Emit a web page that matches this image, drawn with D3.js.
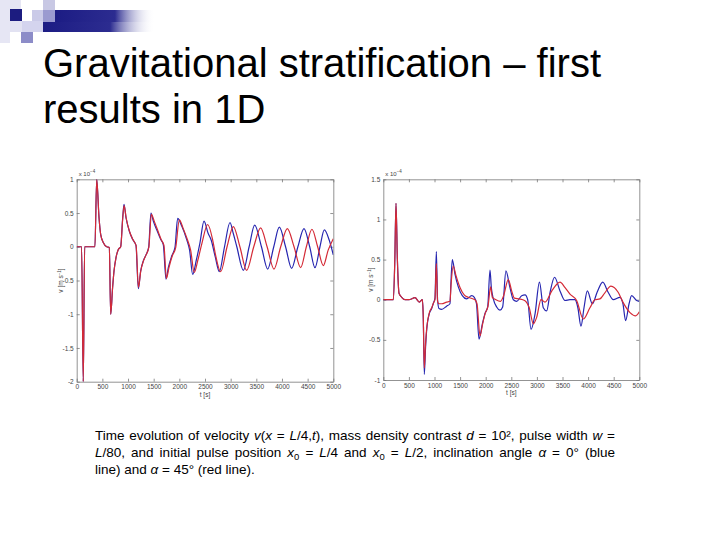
<!DOCTYPE html>
<html><head><meta charset="utf-8">
<script src="https://cdn.jsdelivr.net/npm/d3@7"></script>
<style>body{margin:0;background:#fff}svg{display:block}</style>
</head><body><svg id="c" width="720" height="540"></svg>
<script>
// ---------- data ----------
const xTicks = [0,500,1000,1500,2000,2500,3000,3500,4000,4500,5000];
const leftYTicks = [-2,-1.5,-1,-0.5,0,0.5,1];
const rightYTicks = [-1,-0.5,0,0.5,1,1.5];
const titleLines = ["Gravitational stratification \u2013 first","results in 1D"];

const leftBlue = [[0,0],[95,0],[128,-2],[155,0],[355,0],[390,1],[435,0.43],[468,0.18],[520,0.06],[585,0],[636,-0.01],[662,-1.0],[700,-0.6],[727,-0.36],[766,-0.16],[811,-0.04],[857,0],[896,0.43],[922,0.63],[961,0.43],[1026,0.23],[1090,0.11],[1155,0.02],[1201,-0.62],[1246,-0.36],[1298,-0.21],[1350,-0.12],[1402,-0.01],[1447,0.5],[1493,0.38],[1571,0.23],[1636,0.11],[1688,0.03],[1740,-0.48],[1785,-0.31],[1850,-0.14],[1915,-0.01],[1967,0.42],[2045,0.31],[2142,0.11],[2200,-0.05],[2260,-0.41],[2330,-0.2],[2400,0.05],[2481,0.38],[2560,0.2],[2620,0.1],[2700,-0.15],[2779,-0.37],[2880,0],[2987,0.36],[3050,0.2],[3120,0],[3247,-0.35],[3360,0],[3468,0.32],[3600,0],[3721,-0.33],[3840,0],[3948,0.29],[4070,0],[4188,-0.32],[4310,0],[4429,0.27],[4540,0],[4643,-0.31],[4740,0],[4825,0.25],[4920,0.1],[5000,-0.12]];
const leftRed = [[0,0],[95,0],[128,-2],[155,0],[355,0],[390,1],[435,0.43],[468,0.18],[520,0.06],[585,0],[636,-0.01],[662,-1.0],[700,-0.6],[727,-0.36],[766,-0.16],[811,-0.04],[857,0],[898,0.43],[924,0.61],[963,0.43],[1028,0.23],[1092,0.11],[1157,0.02],[1203,-0.6],[1248,-0.36],[1300,-0.21],[1352,-0.12],[1405,-0.01],[1455,0.48],[1510,0.38],[1590,0.22],[1650,0.1],[1700,0.02],[1748,-0.47],[1800,-0.3],[1865,-0.13],[1930,-0.01],[2000,0.4],[2070,0.28],[2160,0.1],[2220,-0.05],[2290,-0.38],[2360,-0.2],[2440,0.05],[2552,0.33],[2650,0.1],[2700,-0.1],[2805,-0.37],[2930,0],[3052,0.3],[3180,0],[3312,-0.35],[3450,0],[3584,0.28],[3710,0],[3844,-0.33],[3975,0],[4104,0.27],[4235,0],[4364,-0.31],[4475,0],[4584,0.26],[4695,0],[4805,-0.28],[4900,-0.05],[5000,0.12]];

const rightBlue = [[0,0],[196,0],[225,0.5],[248,1.2],[275,0.5],[307,0.08],[360,0.03],[424,0.0],[500,0.0],[619,0.025],[704,-0.03],[763,0.0],[780,-0.2],[801,-0.93],[825,-0.6],[847,-0.38],[900,-0.17],[945,-0.11],[980,-0.04],[1009,0.02],[1036,0.6],[1060,0.0],[1088,-0.11],[1140,-0.12],[1237,-0.08],[1302,-0.05],[1320,0.2],[1348,0.5],[1400,0.32],[1465,0.16],[1543,0.05],[1628,0.01],[1726,0.05],[1778,0.03],[1820,-0.05],[1869,-0.49],[1935,-0.3],[1987,-0.17],[2039,-0.09],[2084,0.37],[2110,0.15],[2149,0.01],[2214,-0.09],[2279,-0.13],[2331,-0.09],[2395,0.36],[2474,0.15],[2540,0.0],[2605,-0.02],[2703,0.05],[2768,0.06],[2820,0.0],[2885,-0.37],[2963,-0.18],[3050,0.22],[3125,-0.1],[3190,-0.14],[3260,0.1],[3345,0.28],[3451,0.11],[3549,-0.01],[3646,0.0],[3744,0.0],[3800,-0.1],[3861,-0.33],[3920,-0.1],[3985,0.11],[4083,-0.05],[4180,0.1],[4285,0.22],[4394,0.09],[4492,0.0],[4622,0.03],[4680,-0.05],[4733,-0.26],[4800,-0.05],[4850,0.05],[4948,-0.01],[5000,-0.02]];
const rightRed = [[0,0],[196,0],[225,0.5],[248,1.2],[275,0.5],[307,0.08],[360,0.03],[424,0.0],[500,0.0],[619,0.025],[704,-0.03],[763,0.0],[780,-0.2],[801,-0.85],[825,-0.55],[847,-0.36],[900,-0.16],[945,-0.1],[980,-0.04],[1009,0.0],[1036,0.45],[1060,-0.02],[1088,-0.05],[1140,-0.05],[1237,-0.03],[1302,-0.02],[1325,0.2],[1367,0.42],[1420,0.3],[1500,0.15],[1580,0.06],[1660,0.03],[1790,0.0],[1830,-0.05],[1889,-0.45],[1940,-0.3],[1990,-0.17],[2045,-0.08],[2097,0.16],[2130,0.03],[2200,0.0],[2290,-0.02],[2350,0.05],[2441,0.25],[2507,0.11],[2560,0.02],[2650,0.01],[2760,-0.01],[2850,-0.1],[2930,-0.3],[2995,-0.22],[3080,0.0],[3158,-0.03],[3300,0.12],[3451,0.22],[3550,0.15],[3646,0.07],[3776,-0.01],[3906,-0.24],[4036,-0.1],[4134,0.0],[4230,0.01],[4320,0.08],[4446,0.17],[4590,0.09],[4680,-0.03],[4818,-0.16],[4929,-0.2],[5000,-0.15]];

// ---------- drawing ----------
const svg = d3.select("#c");
const FONT = "'Liberation Sans', Arial, sans-serif";

// corner decoration
const defs = svg.append("defs");
const g1 = defs.append("linearGradient").attr("id","barGrad").attr("x1","0").attr("x2","1").attr("y1","0").attr("y2","0");
g1.append("stop").attr("offset","0").attr("stop-color","#1c1c84");
g1.append("stop").attr("offset","0.6").attr("stop-color","#2c2c90");
g1.append("stop").attr("offset","1").attr("stop-color","#ffffff").attr("stop-opacity","0");
const deco = svg.append("g");
[[0,0,10,43,"#e6e6f4"],[10,0,11,9,"#e6e6f4"],[10,21,12,11,"#e2e2f2"],[10,9,12,12,"#1c1c80"],
 [32,10,11,12,"#cacae8"],[22,21,21,11,"#d4d4ee"],[21,32,12,11,"#8c8cc8"],
 [43,0,12,10,"#c8c8e4"],[43,10,12,12,"#9a9ad0"]].forEach(r=>{
  deco.append("rect").attr("x",r[0]).attr("y",r[1]).attr("width",r[2]).attr("height",r[3]).attr("fill",r[4]);
});
deco.append("rect").attr("x",55).attr("y",10).attr("width",100).attr("height",12).attr("fill","url(#barGrad)");
deco.append("rect").attr("x",43).attr("y",22).attr("width",112).attr("height",10).attr("fill","url(#barGrad)");

// title
svg.append("g").selectAll("text").data(titleLines).join("text")
  .attr("x",43).attr("y",(d,i)=>77+i*46)
  .attr("font-family",FONT).attr("font-size",40).attr("fill","#000")
  .text(d=>d);

function panel(opts){
  const {x0,x1,y0,y1,yDomain,yTicks,blue,red,labY} = opts;
  const x = d3.scaleLinear().domain([0,5000]).range([x0,x1]);
  const y = d3.scaleLinear().domain(yDomain).range([y1,y0]);
  const g = svg.append("g");
  const axCol = "#777";
  const fmt = v=>String(v);
  const styleAxis = (sel)=>{
    sel.select(".domain").attr("stroke",axCol).attr("stroke-width",0.8);
    sel.selectAll(".tick line").attr("stroke",axCol).attr("stroke-width",0.8);
    sel.selectAll(".tick text").attr("fill","#444").attr("font-size",6.5).attr("font-family",FONT);
  };
  g.append("g").attr("transform",`translate(0,${y1})`)
    .call(d3.axisBottom(x).tickValues(xTicks).tickFormat(fmt).tickSizeInner(-3).tickSizeOuter(0).tickPadding(3))
    .call(styleAxis);
  g.append("g").attr("transform",`translate(0,${y0})`)
    .call(d3.axisTop(x).tickValues(xTicks).tickFormat("").tickSizeInner(-3).tickSizeOuter(0))
    .call(styleAxis);
  g.append("g").attr("transform",`translate(${x0},0)`)
    .call(d3.axisLeft(y).tickValues(yTicks).tickFormat(fmt).tickSizeInner(-3).tickSizeOuter(0).tickPadding(3))
    .call(styleAxis);
  g.append("g").attr("transform",`translate(${x1},0)`)
    .call(d3.axisRight(y).tickValues(yTicks).tickFormat("").tickSizeInner(-3).tickSizeOuter(0))
    .call(styleAxis);
  const ex = g.append("text").attr("x",x0+2).attr("y",y0-3)
    .attr("font-family",FONT).attr("font-size",6).attr("fill","#444");
  ex.append("tspan").text("x 10");
  ex.append("tspan").attr("dy",-3).attr("font-size",4.5).text("\u22124");
  const yl = g.append("text").attr("transform",`translate(${labY},${(y0+y1)/2}) rotate(-90)`)
    .attr("text-anchor","middle").attr("font-family",FONT).attr("font-size",6.5).attr("fill","#444");
  yl.append("tspan").text("v [m s");
  yl.append("tspan").attr("dy",-2.5).attr("font-size",4.5).text("\u22121");
  yl.append("tspan").attr("dy",2.5).text("]");
  g.append("text").attr("x",(x0+x1)/2).attr("y",y1+15)
    .attr("text-anchor","middle").attr("font-family",FONT).attr("font-size",6.5).attr("fill","#444")
    .text("t [s]");
  const clipId = "clip"+Math.round(x0);
  defs.append("clipPath").attr("id",clipId).append("rect")
    .attr("x",x0).attr("y",y0).attr("width",x1-x0).attr("height",y1-y0);
  const line = d3.line().x(d=>x(d[0])).y(d=>y(d[1])).curve(d3.curveMonotoneX);
  const lg = g.append("g").attr("clip-path",`url(#${clipId})`);
  lg.append("path").datum(blue).attr("d",line).attr("fill","none").attr("stroke","#2626b0").attr("stroke-width",1.2);
  lg.append("path").datum(red).attr("d",line).attr("fill","none").attr("stroke","#d42a36").attr("stroke-width",1.2);
}

panel({x0:76.7,x1:333.3,y0:179.3,y1:381.7,yDomain:[-2,1],yTicks:leftYTicks,blue:leftBlue,red:leftRed,labY:63});
panel({x0:383.3,x1:639.3,y0:179.3,y1:380,yDomain:[-1,1.5],yTicks:rightYTicks,blue:rightBlue,red:rightRed,labY:373});

// caption
const cap = svg.append("g").attr("font-family",FONT).attr("font-size",13.5).attr("fill","#000");
const captionLines = [
  [["Time evolution of velocity "],["v","i"],["("],["x","i"],[" = "],["L","i"],["/4,"],["t","i"],["), mass density contrast "],["d","i"],[" = 10\u00b2, pulse width "],["w","i"],[" ="]],
  [["L","i"],["/80, and initial pulse position "],["x","i"],["0","s"],[" = "],["L","i"],["/4 and "],["x","i"],["0","s"],[" = "],["L","i"],["/2, inclination angle "],["\u03b1","i"],[" = 0\u00b0 (blue"]],
  [["line) and "],["\u03b1","i"],[" = 45\u00b0 (red line)."]]
];
captionLines.forEach((parts,li)=>{
  const t = cap.append("text").attr("x",95).attr("y",440+li*17);
  let sub=false;
  parts.forEach(p=>{
    const ts = t.append("tspan").text(p[0]);
    if(p[1]==="i") ts.attr("font-style","italic");
    if(p[1]==="s"){ ts.attr("dy",3).attr("font-size",9.5); sub=true; }
    else if(sub){ ts.attr("dy",-3); sub=false; }
  });
  if(li<2){
    const w = t.node().getComputedTextLength();
    const spaces = (t.text().match(/ /g)||[]).length;
    const target = 520;
    t.style("word-spacing", ((target-w)/spaces)+"px");
  }
});
</script>
</body></html>
